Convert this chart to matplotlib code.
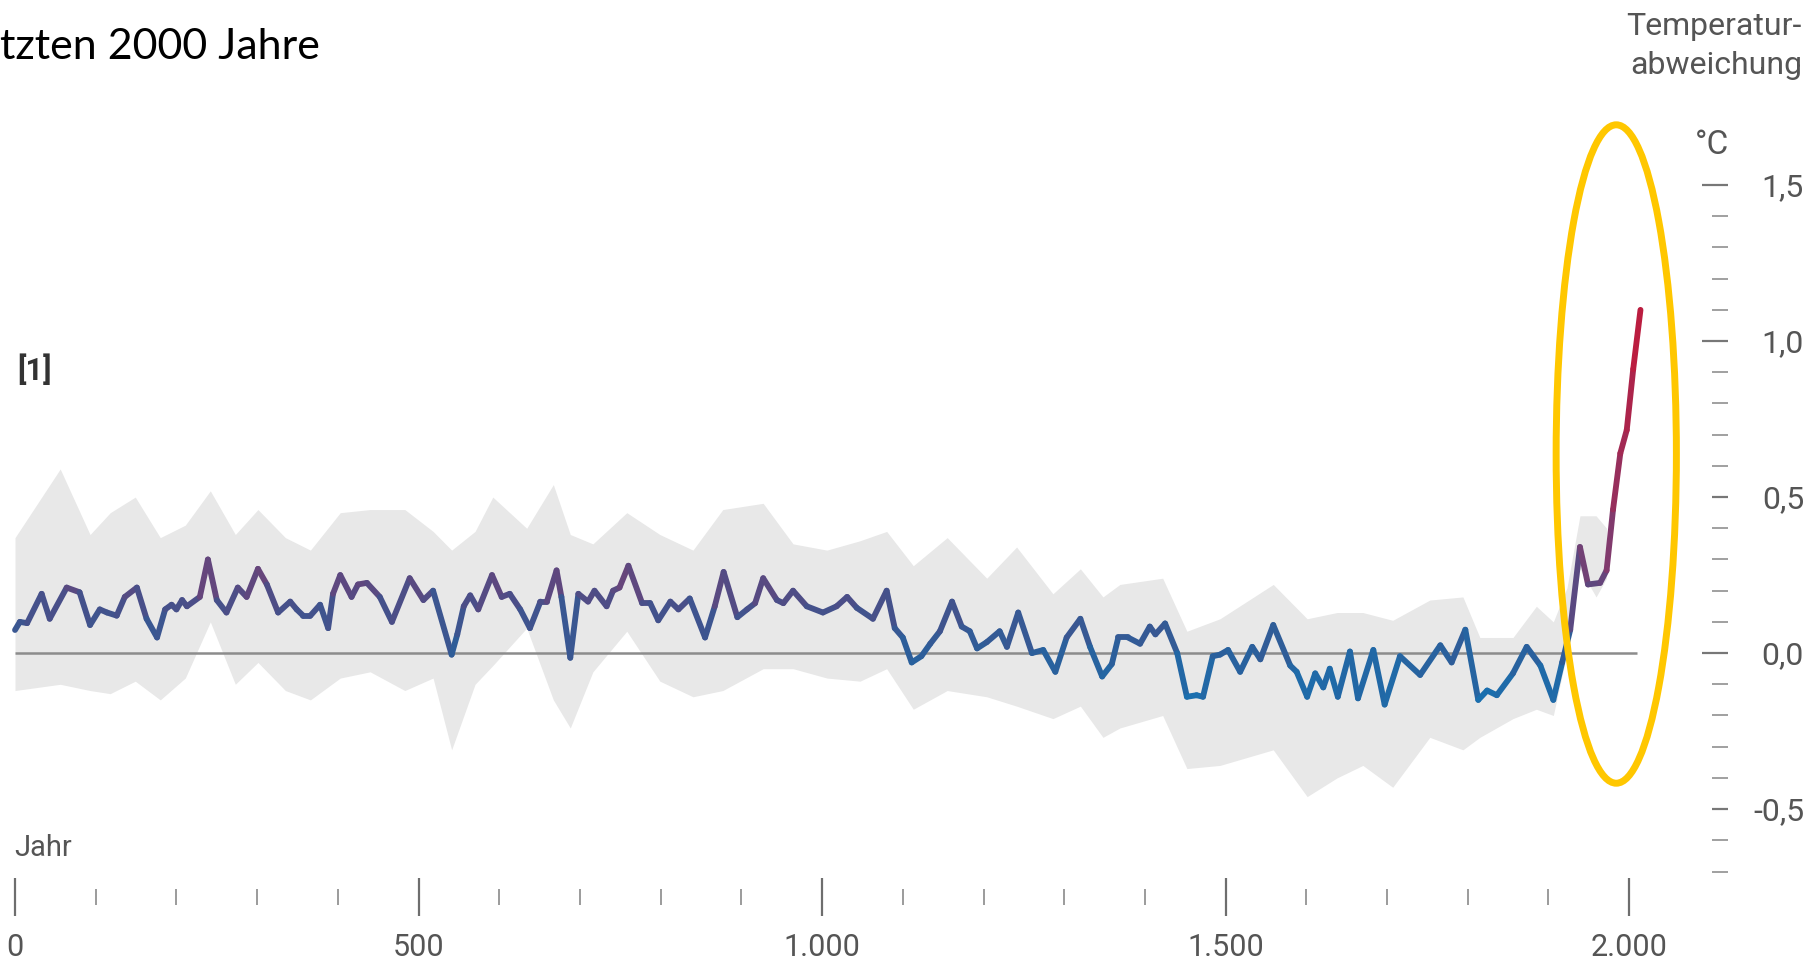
import numpy as np
import matplotlib
matplotlib.use('Agg')
import matplotlib.pyplot as plt
from matplotlib.collections import LineCollection
from matplotlib.colors import LinearSegmentedColormap, Normalize
from matplotlib.patches import Ellipse
from matplotlib.ticker import FixedLocator

# Temperaturabweichung (°C)
years = np.array([0, 6, 15, 33, 43, 64, 80, 93, 105, 114, 126, 136, 151, 163, 176, 186, 194, 200,
                  207, 213, 229, 239, 250, 262, 276, 287, 301, 312, 326, 341, 349, 357, 366, 378,
                  388, 394, 403, 417, 425, 436, 452, 467, 489, 506, 518, 541, 548, 556, 564, 574,
                  591, 603, 613, 626, 638, 651, 659, 671, 677, 688, 698, 710, 718, 733, 741, 749,
                  760, 777, 787, 797, 812, 822, 836, 855, 867, 878, 895, 907, 917, 927, 944, 952,
                  964, 981, 1001, 1018, 1031, 1043, 1063, 1080, 1090, 1100, 1111, 1123, 1134, 1146,
                  1161, 1173, 1183, 1192, 1204, 1220, 1229, 1243, 1260, 1274, 1289, 1303, 1320,
                  1332, 1347, 1359, 1367, 1379, 1394, 1406, 1413, 1425, 1440, 1452, 1464, 1472,
                  1484, 1493, 1503, 1518, 1533, 1543, 1559, 1580, 1588, 1601, 1611, 1621, 1629,
                  1639, 1654, 1664, 1683, 1697, 1716, 1741, 1766, 1780, 1797, 1813, 1824, 1836,
                  1856, 1873, 1890, 1906, 1917, 1927, 1939, 1949, 1964, 1972, 1980, 1989, 1997,
                  2005, 2014])
temp = np.array([0.074, 0.10, 0.096, 0.19, 0.11, 0.21, 0.195, 0.09, 0.14, 0.13, 0.12, 0.18, 0.21,
                 0.11, 0.05, 0.14, 0.155, 0.14, 0.17, 0.15, 0.18, 0.30, 0.17, 0.13, 0.21, 0.18,
                 0.27, 0.22, 0.13, 0.165, 0.14, 0.12, 0.12, 0.155, 0.08, 0.19, 0.25, 0.18, 0.22,
                 0.225, 0.18, 0.10, 0.24, 0.17, 0.20, -0.005, 0.06, 0.15, 0.185, 0.14, 0.25, 0.18,
                 0.19, 0.14, 0.08, 0.165, 0.165, 0.265, 0.18, -0.015, 0.19, 0.165, 0.20, 0.15,
                 0.20, 0.21, 0.28, 0.16, 0.16, 0.105, 0.165, 0.14, 0.175, 0.05, 0.15, 0.26, 0.115,
                 0.14, 0.16, 0.24, 0.17, 0.16, 0.20, 0.15, 0.13, 0.15, 0.18, 0.145, 0.11, 0.20,
                 0.08, 0.05, -0.03, -0.01, 0.03, 0.07, 0.165, 0.085, 0.07, 0.015, 0.035, 0.07,
                 0.02, 0.13, 0.0, 0.01, -0.06, 0.05, 0.11, 0.02, -0.075, -0.035, 0.05, 0.05, 0.03,
                 0.085, 0.06, 0.095, 0.0, -0.14, -0.135, -0.14, -0.01, -0.005, 0.01, -0.06, 0.02,
                 -0.02, 0.09, -0.04, -0.06, -0.14, -0.065, -0.11, -0.05, -0.14, 0.005, -0.145,
                 0.01, -0.165, -0.01, -0.07, 0.025, -0.03, 0.075, -0.15, -0.12, -0.135, -0.065,
                 0.02, -0.04, -0.15, -0.03, 0.075, 0.34, 0.22, 0.225, 0.265, 0.46, 0.64, 0.715,
                 0.91, 1.10])

# Unsicherheitsbereich (grau)
band_years = [0, 56, 93, 118, 149, 180, 211, 242, 273, 301, 335, 366, 403, 440, 483, 518, 541,
              570, 592, 634, 667, 688, 716, 758, 799, 840, 877, 927, 964, 1006, 1047, 1080, 1113,
              1155, 1204, 1241, 1286, 1320, 1348, 1369, 1422, 1452, 1493, 1559, 1601, 1638, 1670,
              1707, 1753, 1794, 1815, 1856, 1885, 1906, 1923, 1939, 1959, 1972]
band_upper = [0.37, 0.59, 0.38, 0.45, 0.50, 0.37, 0.41, 0.52, 0.38, 0.46, 0.37, 0.33, 0.45, 0.46,
              0.46, 0.39, 0.33, 0.39, 0.50, 0.40, 0.54, 0.38, 0.35, 0.45, 0.38, 0.33, 0.46, 0.48,
              0.35, 0.33, 0.36, 0.39, 0.28, 0.37, 0.24, 0.34, 0.19, 0.27, 0.18, 0.22, 0.24, 0.07,
              0.11, 0.22, 0.11, 0.13, 0.13, 0.105, 0.17, 0.18, 0.05, 0.05, 0.15, 0.10, 0.21, 0.44,
              0.44, 0.40]
band_lower = [-0.12, -0.10, -0.12, -0.13, -0.09, -0.15, -0.08, 0.10, -0.10, -0.03, -0.12, -0.15,
              -0.08, -0.06, -0.12, -0.08, -0.31, -0.10, -0.04, 0.08, -0.15, -0.24, -0.06, 0.07,
              -0.09, -0.14, -0.12, -0.05, -0.05, -0.08, -0.09, -0.05, -0.18, -0.12, -0.14, -0.17,
              -0.21, -0.17, -0.27, -0.24, -0.20, -0.37, -0.36, -0.31, -0.46, -0.40, -0.36, -0.43,
              -0.27, -0.31, -0.27, -0.21, -0.18, -0.20, 0.0, 0.27, 0.18, 0.24]

x_ticks = [0, 500, 1000, 1500, 2000]
x_labels = ['0', '500', '1.000', '1.500', '2.000']
y_ticks = [-0.5, 0.0, 0.5, 1.0, 1.5]
y_labels = ['-0,5', '0,0', '0,5', '1,0', '1,5']
y_long = [0.0, 1.0, 1.5]

W, H = 1814, 967
fig = plt.figure(figsize=(W / 100, H / 100), dpi=100)
ax = fig.add_axes([0, 0, 1, 1])
ax.set_xlim(-18.6, 2229)
ax.set_ylim(-1.006, 2.093)
ax.patch.set_visible(False)

ax.fill_between(band_years, band_lower, band_upper, color='#e8e8e8', lw=0, zorder=1)
ax.hlines(0, years[0], 2010, color='#8c8c8c', lw=1.8, zorder=2)

# Kurve, eingefärbt nach Wert
pts = np.column_stack([years, temp])
segs = np.stack([pts[:-1], pts[1:]], axis=1)
norm = Normalize(-0.17, 1.1)
cmap = LinearSegmentedColormap.from_list('temp', [
    (0.0, '#1673b3'), (0.134, '#2b5f9b'), (0.252, '#46508a'),
    (0.37, '#7a3e72'), (0.606, '#9c2c58'), (1.0, '#c21a3a')])
lc = LineCollection(segs, array=(temp[:-1] + temp[1:]) / 2, cmap=cmap, norm=norm,
                    linewidths=4.2, capstyle='round', joinstyle='round', zorder=3)
ax.add_collection(lc)

ax.add_patch(Ellipse((1984, 0.638), 149, 2.11, fill=False, ec='#FFC700', lw=5, zorder=5))

# Achsen
for s in ['left', 'top']:
    ax.spines[s].set_visible(False)
ax.spines['bottom'].set_position(('data', -0.782))
ax.spines['bottom'].set_color('none')
ax.spines['right'].set_position(('data', 2122))
ax.spines['right'].set_color('none')

ax.xaxis.set_ticks_position('bottom')
ax.set_xticks(x_ticks, x_labels)
ax.xaxis.set_minor_locator(FixedLocator([y for y in range(100, 2000, 100) if y % 500]))
ax.tick_params(axis='x', which='major', direction='inout', length=27, width=1.6,
               color='#6e6e6e', pad=12, labelsize=22, labelcolor='#555555')
ax.tick_params(axis='x', which='minor', direction='inout', length=11.5, width=1.2,
               color='#8a8a8a')

ax.yaxis.set_ticks_position('right')
ax.set_yticks(y_ticks, y_labels)
ax.yaxis.set_minor_locator(FixedLocator([v / 10 for v in range(-7, 16) if v % 5]))
ax.tick_params(axis='y', which='major', direction='in', length=11.5, width=1.6,
               color='#777777', pad=55, labelsize=23, labelcolor='#555555')
ax.tick_params(axis='y', which='minor', direction='in', length=11.5, width=1.3,
               color='#999999')
for val, t in zip(y_ticks, ax.yaxis.get_major_ticks()):
    t.label2.set_horizontalalignment('right')
    if val in y_long:
        t.tick2line.set_markersize(18.7)

for lab in ax.get_xticklabels() + ax.get_yticklabels(which='both'):
    lab.set_family('Roboto')
for t in ax.yaxis.get_major_ticks():
    t.label2.set_family('Roboto')

# Texte
fig.text(0, 1 - 59 / H, 'tzten 2000 Jahre', fontsize=31, family='Lato', color='black',
         va='baseline', ha='left')
fig.text(1802 / W, 1 - 12 / H, 'Temperatur-\nabweichung', fontsize=23, family='Roboto',
         color='#555555', ha='right', va='top', linespacing=1.45)
fig.text(1695 / W, 1 - 145 / H, '°C', fontsize=24, family='Roboto', color='#555555',
         ha='left', va='center')
fig.text(17 / W, 1 - 370 / H, '[1]', fontsize=22, family='Roboto', weight='bold',
         color='#333333', ha='left', va='center')
fig.text(14 / W, 1 - 856 / H, 'Jahr', fontsize=21, family='Roboto', color='#555555',
         ha='left', va='baseline')

fig.savefig('out.png', dpi=100)
